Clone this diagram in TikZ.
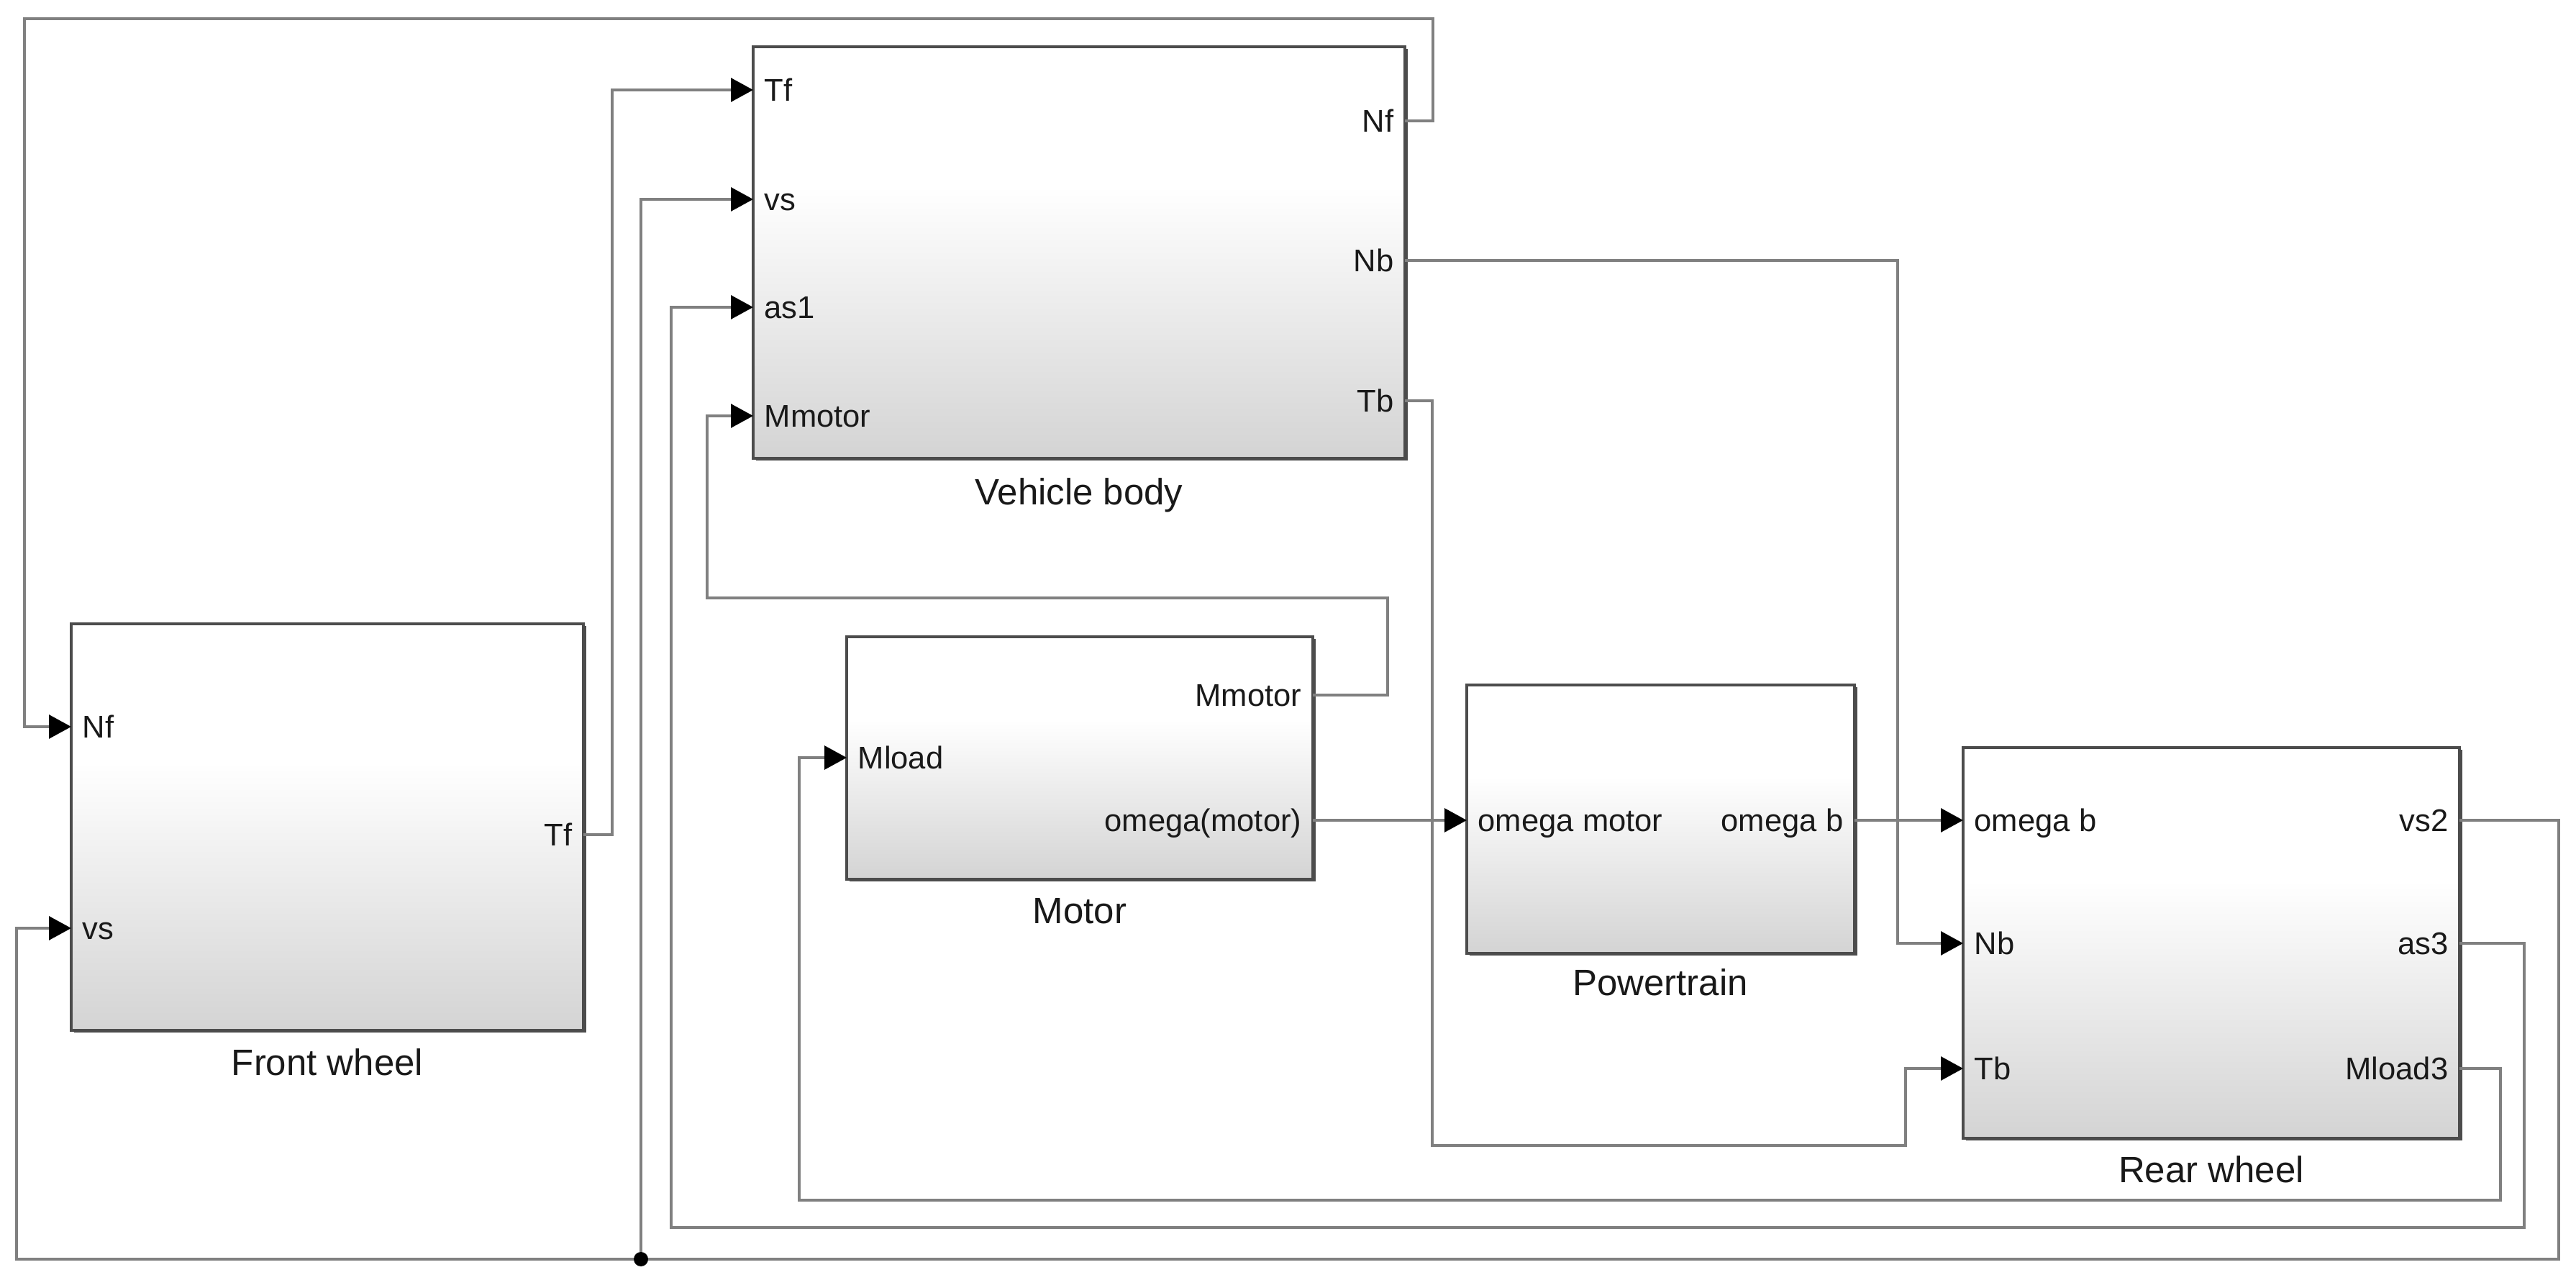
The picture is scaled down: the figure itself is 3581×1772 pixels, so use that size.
\documentclass[tikz,border=0pt]{standalone}
\usepackage{fontspec}
\setmainfont{Liberation Sans}
\usetikzlibrary{arrows.meta,shadows,fit}
\pgfdeclareverticalshading{simblock}{100bp}{color(0bp)=(black!17); color(25bp)=(black!17); color(58bp)=(white); color(100bp)=(white)}
\definecolor{wirec}{gray}{0.50}
\definecolor{txt}{gray}{0.10}
\begin{document}
\begin{tikzpicture}[x=0.1mm,y=-0.1mm,
  wire/.style={draw=wirec, line width=0.32mm},
  arr/.style={wire, -{Triangle[length=3.1mm,width=3.3mm,color=black]}},
  block/.style={draw=black!70, line width=0.4mm, shading=simblock,
    drop shadow={shadow xshift=0.35mm, shadow yshift=-0.35mm, fill=black!70, opacity=1},
    inner sep=0pt, outer sep=0pt},
  portw/.style={anchor=west, inner sep=0pt, xshift=1.5mm, text=txt,
    font=\fontsize{12.4pt}{14pt}\selectfont, text height=11.16pt, text depth=2.28pt},
  porte/.style={anchor=east, inner sep=0pt, xshift=-1.5mm, text=txt,
    font=\fontsize{12.4pt}{14pt}\selectfont, text height=11.16pt, text depth=2.28pt},
  blabel/.style={inner sep=0pt, text=txt,
    font=\fontsize{14.5pt}{17pt}\selectfont, text height=13.05pt, text depth=2.67pt}]

\fill[white] (0,0) rectangle (3581,1772);
\useasboundingbox (0,0) rectangle (3581,1772);

% blocks
\node[block, fit={(1047,65) (1953,637)}] (vb) {};
\node[block, fit={(99,867) (811,1432)}] (fw) {};
\node[block, fit={(1177,885) (1825,1222)}] (mo) {};
\node[block, fit={(2039,952) (2578,1325)}] (pt) {};
\node[block, fit={(2729,1039) (3419,1582)}] (rw) {};

% block names
\node[blabel] (vbl) at (1500,683) {Vehicle body};
\node[blabel] (fwl) at (455,1476) {Front wheel};
\node[blabel] (mol) at (1501,1265) {Motor};
\node[blabel] (ptl) at (2308,1365) {Powertrain};
\node[blabel] (rwl) at (3074,1625) {Rear wheel};

% ports: vehicle body
\coordinate (vb-tf) at (1047,125);
\coordinate (vb-vs) at (1047,277);
\coordinate (vb-as) at (1047,427);
\coordinate (vb-mm) at (1047,578);
\coordinate (vb-nf) at (1953,168);
\coordinate (vb-nb) at (1953,362);
\coordinate (vb-tb) at (1953,557);
% front wheel
\coordinate (fw-nf) at (99,1010);
\coordinate (fw-vs) at (99,1290);
\coordinate (fw-tf) at (811,1160);
% motor
\coordinate (mo-ml) at (1177,1053);
\coordinate (mo-mm) at (1825,966);
\coordinate (mo-om) at (1825,1140);
% powertrain
\coordinate (pt-om) at (2039,1140);
\coordinate (pt-ob) at (2578,1140);
% rear wheel
\coordinate (rw-ob) at (2729,1140);
\coordinate (rw-nb) at (2729,1311);
\coordinate (rw-tb) at (2729,1485);
\coordinate (rw-vs) at (3419,1140);
\coordinate (rw-as) at (3419,1311);
\coordinate (rw-ml) at (3419,1485);

% port labels
\node[portw] at (vb-tf) {Tf};
\node[portw] at (vb-vs) {vs};
\node[portw] at (vb-as) {as1};
\node[portw] at (vb-mm) {Mmotor};
\node[porte] at (vb-nf) {Nf};
\node[porte] at (vb-nb) {Nb};
\node[porte] at (vb-tb) {Tb};
\node[portw] at (fw-nf) {Nf};
\node[portw] at (fw-vs) {vs};
\node[porte] at (fw-tf) {Tf};
\node[portw] at (mo-ml) {Mload};
\node[porte] at (mo-mm) {Mmotor};
\node[porte] at (mo-om) {omega(motor)};
\node[portw] at (pt-om) {omega motor};
\node[porte] at (pt-ob) {omega b};
\node[portw] at (rw-ob) {omega b};
\node[portw] at (rw-nb) {Nb};
\node[portw] at (rw-tb) {Tb};
\node[porte] at (rw-vs) {vs2};
\node[porte] at (rw-as) {as3};
\node[porte] at (rw-ml) {Mload3};

% connectors
\draw[arr] (vb-nf) -| (1992,26) -| (34,1010) -- (fw-nf);
\draw[arr] (fw-tf) -| (851,125) -- (vb-tf);
\draw[arr] (rw-vs) -| (3557,1750) -| (23,1290) -- (fw-vs);
\coordinate (j) at (891,1750);
\draw[arr] (j) |- (vb-vs);
\fill[black] (j) circle (1mm);
\draw[arr] (rw-as) -| (3509,1706) -| (933,427) -- (vb-as);
\draw[arr] (rw-ml) -| (3476,1668) -| (1111,1053) -- (mo-ml);
\draw[arr] (mo-mm) -| (1929,831) -| (983,578) -- (vb-mm);
\draw[arr] (mo-om) -- (pt-om);
\draw[arr] (pt-ob) -- (rw-ob);
\draw[arr] (vb-nb) -| (2638,1311) -- (rw-nb);
\draw[arr] (vb-tb) -| (1991,1592) -| (2649,1485) -- (rw-tb);
\end{tikzpicture}
\end{document}
